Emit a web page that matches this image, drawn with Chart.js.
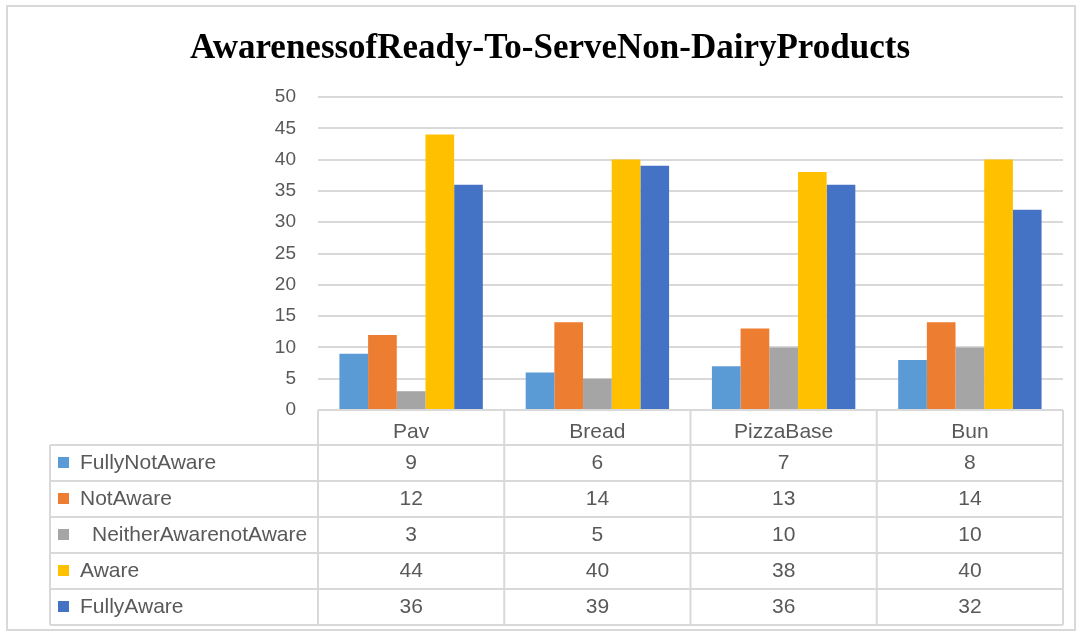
<!DOCTYPE html>
<html>
<head>
<meta charset="utf-8">
<script src="https://cdn.jsdelivr.net/npm/chart.js@4/dist/chart.umd.min.js"></script>
<style>
  body { margin: 0; background: #fff; }
  #wrap { width: 1081px; height: 635px; position: relative; }
</style>
</head>
<body>
<div id="wrap"><canvas id="myChart" width="1081" height="635"></canvas></div>
<script>
const titleText = "AwarenessofReady-To-ServeNon-DairyProducts";
const categories = ["Pav", "Bread", "PizzaBase", "Bun"];
const seriesNames = ["FullyNotAware", "NotAware", "NeitherAwarenotAware", "Aware", "FullyAware"];
const fullyNotAware = [9, 6, 7, 8];
const notAware = [12, 14, 13, 14];
const neitherAware = [3, 5, 10, 10];
const aware = [44, 40, 38, 40];
const fullyAware = [36, 39, 36, 32];
const colors = ["#5B9BD5", "#ED7D31", "#A5A5A5", "#FFC000", "#4472C4"];

const seriesValues = [fullyNotAware, notAware, neitherAware, aware, fullyAware];
const font = "'Liberation Sans Narrow', 'Arial Narrow', 'Liberation Sans', sans-serif";
const gridColor = "#d9d9d9";
const textColor = "#595959";

// table under the plot + title + outer frame
const tablePlugin = {
  id: "dataTable",
  afterDraw(chart) {
    const ctx = chart.ctx;
    const area = chart.chartArea;
    const x = chart.scales.x;
    const colW = (area.right - area.left) / categories.length;
    const tableLeft = 50;
    const headTop = area.bottom;
    const rowTop = area.bottom + 35;
    const rowH = 36;
    const tableBottom = rowTop + rowH * seriesNames.length;

    ctx.save();
    // frame
    ctx.strokeStyle = gridColor;
    ctx.lineWidth = 2;
    ctx.strokeRect(7, 6, 1068, 624);

    // title
    ctx.fillStyle = "#000";
    ctx.font = "bold 35px 'Liberation Serif', 'Times New Roman', serif";
    ctx.textAlign = "center";
    ctx.textBaseline = "middle";
    ctx.fillText(titleText, 550, 49);

    // grid of the table
    ctx.lineWidth = 2;
    ctx.strokeStyle = gridColor;
    ctx.beginPath();
    for (let i = 0; i <= seriesNames.length; i++) {
      const y = rowTop + i * rowH;
      ctx.moveTo(tableLeft, y);
      ctx.lineTo(area.right, y);
    }
    for (let i = 0; i <= categories.length; i++) {
      const cx = area.left + i * colW;
      ctx.moveTo(cx, headTop);
      ctx.lineTo(cx, tableBottom);
    }
    ctx.moveTo(tableLeft, rowTop);
    ctx.lineTo(tableLeft, tableBottom);
    ctx.stroke();

    // category labels
    ctx.font = "21px " + font;
    ctx.fillStyle = textColor;
    categories.forEach((c, i) => {
      ctx.fillText(c, x.getPixelForValue(i), headTop + 22);
    });

    // rows
    seriesNames.forEach((name, r) => {
      const cy = rowTop + r * rowH + rowH / 2;
      ctx.fillStyle = colors[r];
      ctx.fillRect(58, cy - 6, 11, 11);
      ctx.fillStyle = textColor;
      ctx.textAlign = "left";
      ctx.fillText(name, r === 2 ? 92 : 80, cy);
      ctx.textAlign = "center";
      seriesValues[r].forEach((v, i) => {
        ctx.fillText(String(v), x.getPixelForValue(i), cy);
      });
    });
    ctx.restore();
  },
};

new Chart(document.getElementById("myChart"), {
  type: "bar",
  data: {
    labels: categories,
    datasets: seriesNames.map((name, i) => ({
      label: name,
      data: seriesValues[i],
      backgroundColor: colors[i],
      borderWidth: 0,
      categoryPercentage: 0.77,
      barPercentage: 1,
    })),
  },
  options: {
    responsive: false,
    animation: false,
    layout: { padding: { top: 97, right: 18, bottom: 190, left: 0 } },
    plugins: {
      legend: { display: false },
      tooltip: { enabled: false },
    },
    scales: {
      x: {
        grid: { display: false },
        border: { display: false },
        ticks: { display: false },
        afterFit: (s) => { s.height = 35; },
      },
      y: {
        min: 0,
        max: 50,
        ticks: {
          stepSize: 5,
          padding: 22,
          color: textColor,
          font: { family: font, size: 19 },
        },
        grid: { color: gridColor, lineWidth: 2, drawTicks: false },
        border: { display: false },
        afterFit: (s) => { s.width = 318; },
      },
    },
  },
  plugins: [tablePlugin],
});
</script>
</body>
</html>
